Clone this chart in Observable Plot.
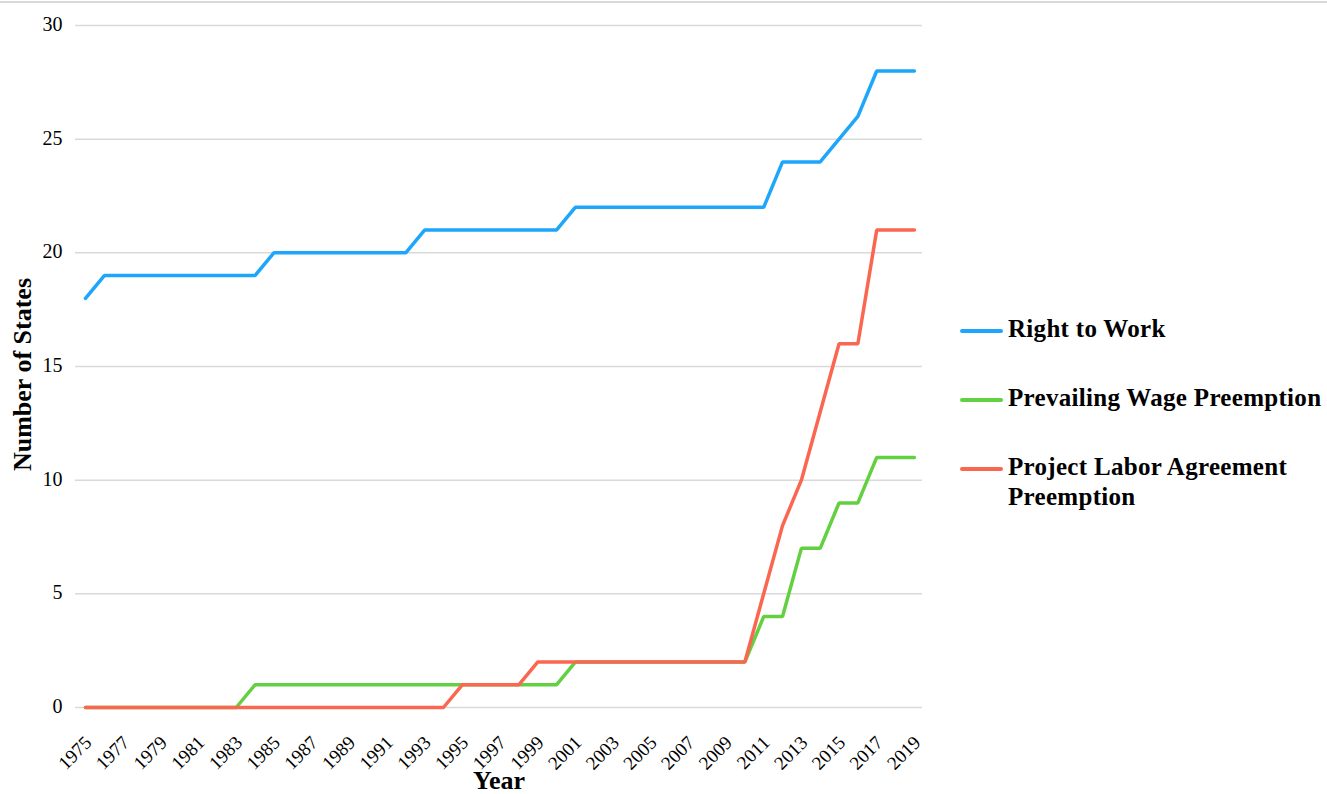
<!DOCTYPE html>
<html>
<head>
<meta charset="utf-8">
<script src="https://cdn.jsdelivr.net/npm/d3@7"></script>
<script src="https://cdn.jsdelivr.net/npm/@observablehq/plot@0.6"></script>
<style>
  html, body { margin: 0; padding: 0; background: #fff; }
  #wrap { position: relative; width: 1327px; height: 794px; overflow: hidden; }
  #topline { position: absolute; left: 0; top: 1px; width: 1327px; height: 2px; background: #d9d9d9; }
  #chart { position: absolute; left: 0; top: 0; }
  #legend { position: absolute; left: 960px; top: 0; font-family: "Liberation Serif", "Times New Roman", serif; font-weight: bold; font-size: 25px; letter-spacing: 0.3px; color: #000; }
  .item { position: absolute; left: 0; display: flex; align-items: flex-start; white-space: nowrap; }
  .sw { width: 43px; height: 4px; border-radius: 2px; margin-top: 14px; margin-right: 5px; flex: none; }
  .lbl { line-height: 30px; margin-top: -1px; }
</style>
</head>
<body>
<div id="wrap">
  <div id="topline"></div>
  <div id="chart"></div>
  <div id="legend"></div>
</div>
<script>
const years = d3.range(1975, 2020);
const seriesNames = ["Right to Work", "Prevailing Wage Preemption", "Project Labor Agreement Preemption"];
const seriesColors = ["#1EA7FA", "#63D042", "#FB6651"];

// values per year 1975..2019
const rightToWork = [
  18, 19, 19, 19, 19, 19, 19, 19, 19, 19,   // 1975-1984
  20, 20, 20, 20, 20, 20, 20, 20,           // 1985-1992
  21, 21, 21, 21, 21, 21, 21, 21,           // 1993-2000
  22, 22, 22, 22, 22, 22, 22, 22, 22, 22, 22, // 2001-2011
  24, 24, 24, 25, 26, 28, 28, 28            // 2012-2019
];
const prevailingWage = [
  0, 0, 0, 0, 0, 0, 0, 0, 0,                // 1975-1983
  1, 1, 1, 1, 1, 1, 1, 1, 1, 1, 1, 1, 1, 1, 1, 1, 1, // 1984-2000
  2, 2, 2, 2, 2, 2, 2, 2, 2, 2,             // 2001-2010
  4, 4, 7, 7, 9, 9, 11, 11, 11              // 2011-2019
];
const projectLabor = [
  0, 0, 0, 0, 0, 0, 0, 0, 0, 0, 0, 0, 0, 0, 0, 0, 0, 0, 0, 0, // 1975-1994
  1, 1, 1, 1,                               // 1995-1998
  2, 2, 2, 2, 2, 2, 2, 2, 2, 2, 2, 2,       // 1999-2010
  5, 8, 10, 13, 16, 16, 21, 21, 21          // 2011-2019
];
const yTicks = [0, 5, 10, 15, 20, 25, 30];
const xTicks = d3.range(1975, 2020, 2);

const allSeries = [rightToWork, prevailingWage, projectLabor];
const data = [];
allSeries.forEach((vals, si) => {
  years.forEach((yr, i) => data.push({series: seriesNames[si], year: yr, value: vals[i]}));
});

const serif = "'Liberation Serif', 'Times New Roman', serif";

const chart = Plot.plot({
  width: 940,
  height: 794,
  marginLeft: 75,
  marginRight: 18,
  marginTop: 25,
  marginBottom: 87,
  style: { fontFamily: serif, fontSize: "20px", color: "#000", background: "transparent" },
  x: { domain: [1974.47, 2019.43] },
  y: { domain: [0, 30] },
  color: { domain: seriesNames, range: seriesColors },
  marks: [
    Plot.gridY(yTicks, { stroke: "#d9d9d9", strokeOpacity: 1, strokeWidth: 1.5 }),
    Plot.axisY(yTicks, { tickSize: 0, tickPadding: 13, label: null, fontSize: 20, dy: -1 }),
    Plot.axisX(xTicks, { tickSize: 0, tickPadding: 20, tickRotate: -45, label: null, fontSize: 19, dx: 3, dy: 12, tickFormat: d => String(d) }),
    Plot.text(["Number of States"], { frameAnchor: "left", textAnchor: "middle", dx: -53, dy: 8, rotate: -90, fontWeight: "bold", fontSize: 26 }),
    Plot.text(["Year"], { frameAnchor: "bottom", textAnchor: "middle", dy: 81, fontWeight: "bold", fontSize: 26 }),
    Plot.line(data, { x: "year", y: "value", z: "series", stroke: "series", strokeWidth: 3.5, strokeLinecap: "round", strokeLinejoin: "miter" })
  ]
});
document.getElementById("chart").appendChild(chart);

const legend = document.getElementById("legend");
const rowTops = [315, 384, 453];
const legendLabels = ["Right to Work", "Prevailing Wage Preemption", "Project Labor Agreement<br>Preemption"];
seriesNames.forEach((name, i) => {
  const item = document.createElement("div");
  item.className = "item";
  item.style.top = rowTops[i] + "px";
  item.innerHTML = `<div class="sw" style="background:${seriesColors[i]}"></div><div class="lbl">${legendLabels[i]}</div>`;
  legend.appendChild(item);
});
</script>
</body>
</html>
